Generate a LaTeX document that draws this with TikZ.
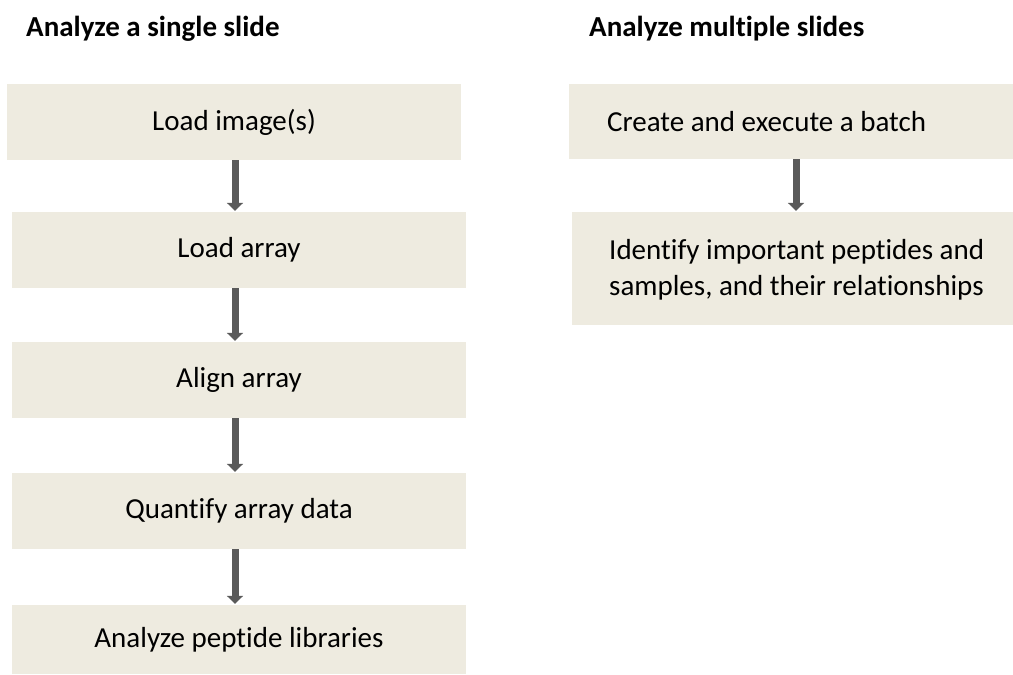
\documentclass[tikz,border=0pt]{standalone}
\usepackage{fontspec}
\setmainfont{Carlito}[Ligatures=NoCommon]
\usetikzlibrary{arrows.meta}
\definecolor{boxfill}{HTML}{EEEBE0}
\definecolor{arrowgray}{HTML}{5A5A5A}
\tikzset{
  stepbox/.style={rectangle, fill=boxfill, draw=none, inner sep=0pt,
    minimum width=454pt, minimum height=76pt, font=\fontsize{29}{36}\selectfont},
  steptext/.style={inner sep=0pt, align=left, font=\fontsize{29}{36}\selectfont},
  titletext/.style={anchor=base west, inner sep=0pt, font=\fontsize{29}{36}\selectfont\bfseries},
  flowarrow/.style={draw=arrowgray, line width=7pt,
    -{Triangle[width=16pt,length=8pt]}, shorten >=1pt}
}
\begin{document}
\begin{tikzpicture}[x=1pt,y=-1pt]
\useasboundingbox (0,0) rectangle (1013,675);
% titles
\node[titletext] (t1) at (26,36) {Analyze a single slide};
\node[titletext] (t2) at (589,36) {Analyze multiple slides};
% left column
\node[stepbox] (L1) at (234,122) {Load image(s)};
\node[stepbox] (L2) at (239,250) {Load array};
\node[stepbox] (L3) at (239,380) {Align array};
\node[stepbox] (L4) at (239,511) {Quantify array data};
\node[stepbox, minimum height=69pt] (L5) at (239,639.5) {Analyze peptide libraries};
\coordinate (la) at (235,0);
\draw[flowarrow] (L1.south -| la) -- (L2.north -| la);
\draw[flowarrow] (L2.south -| la) -- (L3.north -| la);
\draw[flowarrow] (L3.south -| la) -- (L4.north -| la);
\draw[flowarrow] (L4.south -| la) -- (L5.north -| la);
% right column
\node[stepbox, minimum width=444pt, minimum height=75pt] (R1) at (791,121.5) {};
\node[steptext, anchor=west] (R1t) at (607,122) {Create and execute a batch};
\node[stepbox, minimum width=441pt, minimum height=113pt] (R2) at (792.5,268.5) {};
\node[steptext, anchor=west] (R2t) at (609,270)
  {Identify important peptides and\\samples, and their relationships};
\coordinate (ra) at (796,0);
\draw[flowarrow] (R1.south -| ra) -- (R2.north -| ra);
\end{tikzpicture}
\end{document}
